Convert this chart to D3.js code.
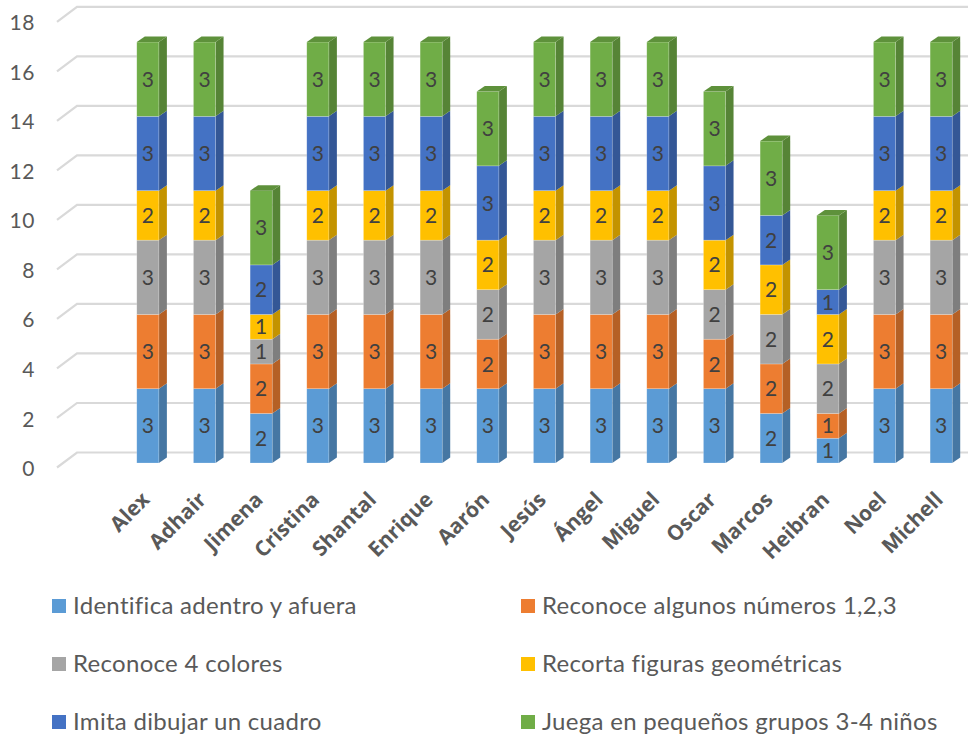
<!DOCTYPE html>
<html><head><meta charset="utf-8">
<script src="https://cdn.jsdelivr.net/npm/d3@7"></script>
<style>
html,body{margin:0;padding:0;background:#fff;}
svg{display:block;}
</style>
</head><body>
<svg id="chart" width="974" height="741"></svg>
<script>
const categories = ["Alex","Adhair","Jimena","Cristina","Shantal","Enrique","Aarón","Jesús","Ángel","Miguel","Oscar","Marcos","Heibran","Noel","Michell"];
const seriesNames = ["Identifica adentro y afuera","Reconoce algunos números 1,2,3","Reconoce 4 colores","Recorta figuras geométricas","Imita dibujar un cuadro","Juega en pequeños grupos 3-4 niños"];
const seriesColors = ["#5B9BD5","#ED7D31","#A5A5A5","#FFC000","#4472C4","#70AD47"];
const identifica = [3,3,2,3,3,3,3,3,3,3,3,2,1,3,3];
const numeros    = [3,3,2,3,3,3,2,3,3,3,2,2,1,3,3];
const colores    = [3,3,1,3,3,3,2,3,3,3,2,2,2,3,3];
const recorta    = [2,2,1,2,2,2,2,2,2,2,2,2,2,2,2];
const imita      = [3,3,2,3,3,3,3,3,3,3,3,2,1,3,3];
const juega      = [3,3,3,3,3,3,3,3,3,3,3,3,3,3,3];
const yTicks = [0,2,4,6,8,10,12,14,16,18];

const seriesValues = [identifica, numeros, colores, recorta, imita, juega];
const rows = categories.map((c,i)=>{
  const r = {cat:c};
  seriesNames.forEach((s,j)=>{ r[s] = seriesValues[j][i]; });
  return r;
});
const stacked = d3.stack().keys(seriesNames)(rows);

const svg = d3.select("#chart");
const y = d3.scaleLinear().domain([0,18]).range([463, 17.3]);
const x = d3.scaleBand().domain(categories).range([119.5, 969.5]).paddingInner(0.61).paddingOuter(0.305);
const dx = 8, dy = -5.5;
const FONT = "Lato, 'Open Sans', sans-serif";

// gridlines (3D floor/back wall)
const grid = svg.append("g");
yTicks.forEach(v=>{
  const yf = y(v)+4.5, yb = y(v)-10.5;
  grid.append("path")
    .attr("d", `M57,${yf}L77,${yb}L968,${yb}`)
    .attr("fill","none").attr("stroke","#d9d9d9").attr("stroke-width",2.2);
});
// y tick labels
svg.append("g").selectAll("text").data(yTicks).join("text")
  .attr("x",35).attr("y",v=>y(v)+5.5)
  .attr("dy","0.36em")
  .attr("text-anchor","end")
  .attr("font-family",FONT).attr("font-size",21).attr("letter-spacing",0.6).attr("fill","#595959")
  .text(d=>d);

// bars
const bars = svg.append("g");
stacked.forEach((ser,j)=>{
  const col = d3.color(seriesColors[j]);
  const side = col.darker(0.75).formatHex();
  const g = bars.append("g");
  ser.forEach((d,i)=>{
    const x0 = x(categories[i]), w = x.bandwidth();
    const y0 = y(d[0]), y1 = y(d[1]);
    if (d[1]-d[0] <= 0) return;
    g.append("path")
      .attr("d",`M${x0+w},${y1}L${x0+w+dx},${y1+dy}L${x0+w+dx},${y0+dy}L${x0+w},${y0}Z`)
      .attr("fill",side);
    g.append("rect").attr("x",x0).attr("y",y1).attr("width",w).attr("height",y0-y1)
      .attr("fill",seriesColors[j]).attr("stroke","#ffffff").attr("stroke-opacity",0.35).attr("stroke-width",0.6);
    if (j === stacked.length-1) {
      g.append("path")
        .attr("d",`M${x0},${y1}L${x0+dx},${y1+dy}L${x0+w+dx},${y1+dy}L${x0+w},${y1}Z`)
        .attr("fill",col.darker(0.5).formatHex());
    }
    g.append("text")
      .attr("x",x0+w/2).attr("y",(y0+y1)/2)
      .attr("dy","0.36em").attr("text-anchor","middle")
      .attr("font-family",FONT).attr("font-size",21).attr("fill","#404040")
      .text(d[1]-d[0]);
  });
});

// category labels
svg.append("g").selectAll("text").data(categories).join("text")
  .attr("transform",c=>`translate(${x(c)+x.bandwidth()/2+3},${501}) rotate(-45)`)
  .attr("text-anchor","end")
  .attr("font-family","'Open Sans', sans-serif").attr("font-weight","bold")
  .attr("font-size",21).attr("fill","#595959")
  .text(c=>c);

// legend
const legend = svg.append("g");
seriesNames.forEach((s,j)=>{
  const col = j%2, row = Math.floor(j/2);
  const lx = col===0 ? 52 : 521;
  const ly = 599 + row*58;
  legend.append("rect").attr("x",lx).attr("y",ly).attr("width",14).attr("height",14).attr("fill",seriesColors[j]);
  legend.append("text").attr("x",lx+21).attr("y",ly+15)
    .attr("font-family",FONT).attr("font-size",24).attr("letter-spacing",0.3).attr("fill","#595959")
    .text(s);
});
</script>
</body></html>
